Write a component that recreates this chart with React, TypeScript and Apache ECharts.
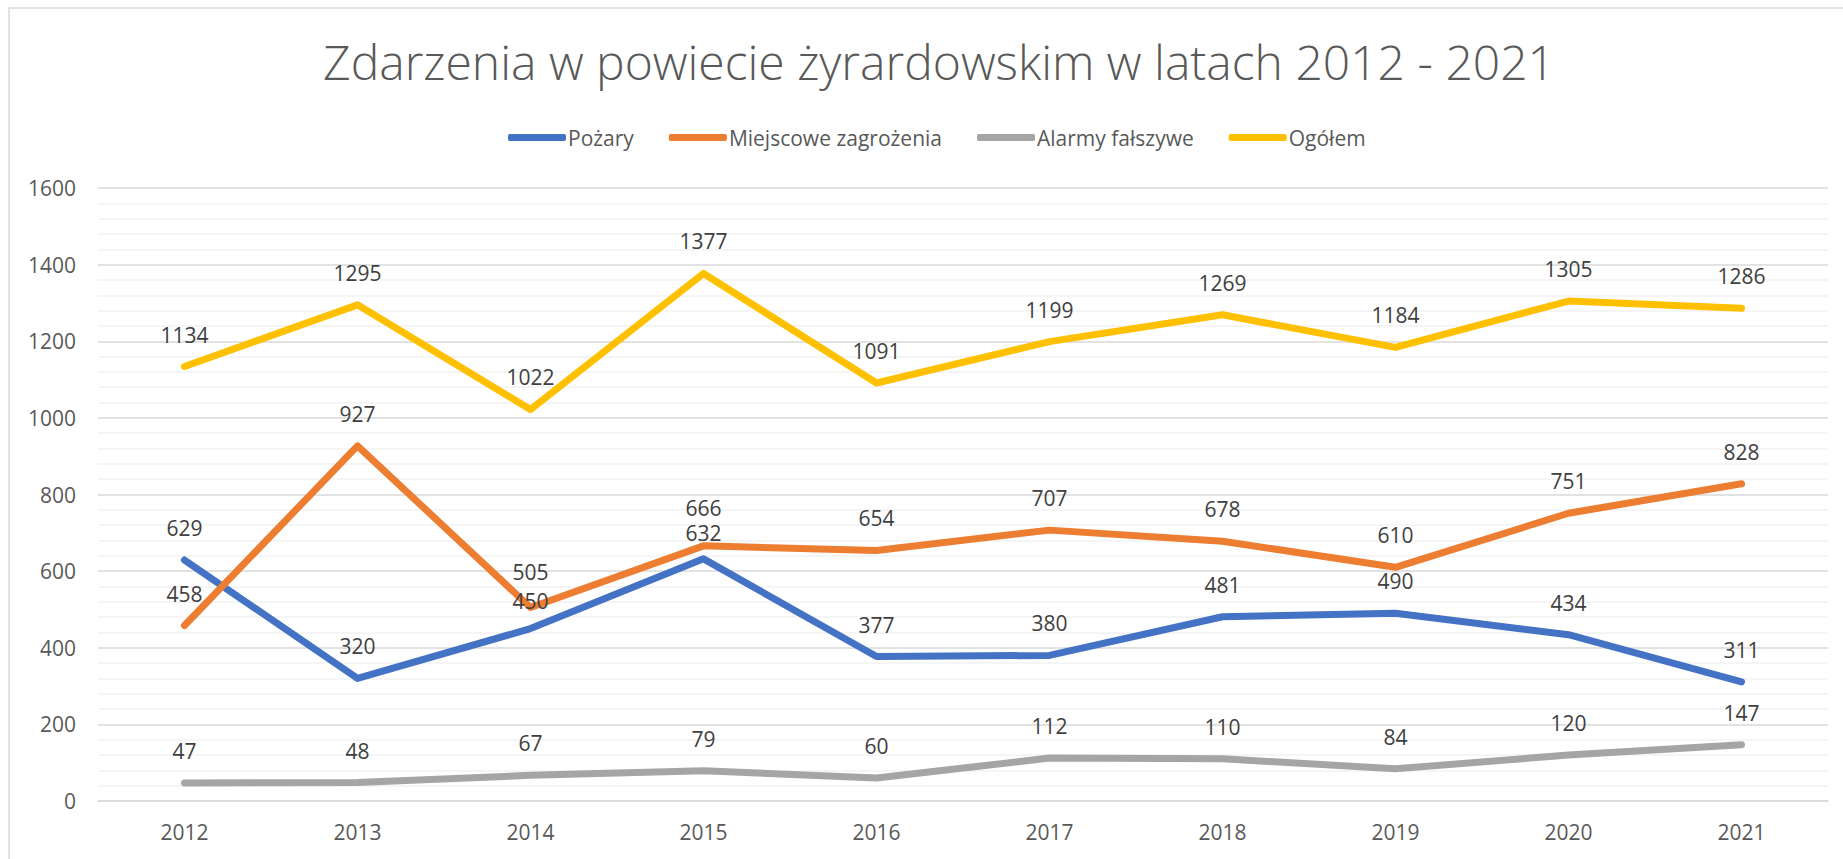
import React, { useEffect, useRef } from "react";
import * as echarts from "echarts";

const years = ["2012", "2013", "2014", "2015", "2016", "2017", "2018", "2019", "2020", "2021"];
const pozary = [629, 320, 450, 632, 377, 380, 481, 490, 434, 311];
const miejscowe = [458, 927, 505, 666, 654, 707, 678, 610, 751, 828];
const alarmy = [47, 48, 67, 79, 60, 112, 110, 84, 120, 147];
const ogolem = [1134, 1295, 1022, 1377, 1091, 1199, 1269, 1184, 1305, 1286];
const seriesNames = ["Pożary", "Miejscowe zagrożenia", "Alarmy fałszywe", "Ogółem"];
const colors = ["#4472C4", "#ED7D31", "#A5A5A5", "#FFC000"];
const titleText = "Zdarzenia w powiecie żyrardowskim w latach 2012 - 2021";

// small vertical label nudges (px) to separate labels that touch in the reference
const labelNudges: Record<string, number> = {
  "0-2": 4,
  "1-2": -4,
  "0-3": 6,
  "1-3": -6,
};

const FONT = "'Open Sans', sans-serif";

export default function App() {
  const ref = useRef<HTMLDivElement>(null);
  useEffect(() => {
    if (!ref.current) return;
    const chart = echarts.init(ref.current, undefined, { renderer: "svg" });
    const all = [pozary, miejscowe, alarmy, ogolem];
    const lineSeries = all.map((vals, si) => ({
      name: seriesNames[si],
      type: "line",
      data: vals,
      symbol: "none",
      lineStyle: { color: colors[si], width: 7, cap: "round", join: "round" },
      itemStyle: { color: colors[si] },
      emphasis: { disabled: true },
      silent: true,
      z: 2 + si,
    }));
    // label layers drawn above all lines (as in the reference)
    const labelSeries = all.map((vals, si) => ({
      name: seriesNames[si],
      type: "line",
      data: vals.map((v, i) => {
        const nudge = labelNudges[`${si}-${i}`];
        return nudge ? { value: v, label: { offset: [0, nudge] } } : v;
      }),
      symbol: "circle",
      symbolSize: 1,
      showSymbol: true,
      itemStyle: { color: "rgba(0,0,0,0)" },
      lineStyle: { width: 0, opacity: 0 },
      label: {
        show: true,
        position: "top",
        distance: 21,
        color: "#404040",
        fontSize: 21,
        fontFamily: FONT,
      },
      emphasis: { disabled: true },
      silent: true,
      z: 10,
    }));
    chart.setOption({
      animation: false,
      color: colors,
      title: {
        text: titleText,
        left: 318,
        top: 32,
        textStyle: { fontFamily: FONT, fontSize: 48, fontWeight: 300, color: "#595959" },
      },
      legend: {
        data: seriesNames.map((n, i) => ({ name: n, itemStyle: { color: colors[i] } })),
        top: 122,
        left: 503,
        icon: "roundRect",
        itemWidth: 58,
        itemHeight: 7,
        itemGap: 35,
        textStyle: { fontFamily: FONT, fontSize: 21, color: "#595959", padding: [0, 0, 0, -3] },
      },
      grid: { left: 98, right: 15, top: 188, bottom: 58, containLabel: false },
      xAxis: {
        type: "category",
        data: years,
        boundaryGap: true,
        axisLine: { lineStyle: { color: "#D9D9D9", width: 1.5 } },
        axisTick: { show: false },
        axisLabel: { color: "#595959", fontSize: 21, fontFamily: FONT, margin: 20 },
      },
      yAxis: {
        type: "value",
        min: 0,
        max: 1600,
        interval: 200,
        axisLine: { show: false },
        axisTick: { show: false },
        axisLabel: {
          color: "#595959",
          fontSize: 21,
          fontFamily: FONT,
          margin: 22,
          formatter: (v: number) => String(v),
        },
        splitLine: { lineStyle: { color: "#D9D9D9", width: 1.5 } },
        minorTick: { show: false, splitNumber: 5 },
        minorSplitLine: { show: true, lineStyle: { color: "#F2F2F2", width: 1.5 } },
      },
      graphic: [
        {
          type: "rect",
          silent: true,
          shape: { x: 9, y: 8, width: 1900, height: 900 },
          style: { fill: "none", stroke: "#D9D9D9", lineWidth: 1.5 },
        },
      ],
      series: [...lineSeries, ...labelSeries],
    });
    return () => chart.dispose();
  }, []);
  return (
    <div
      ref={ref}
      style={{ position: "fixed", left: 0, top: 0, width: 1843, height: 859, background: "#fff" }}
    />
  );
}
